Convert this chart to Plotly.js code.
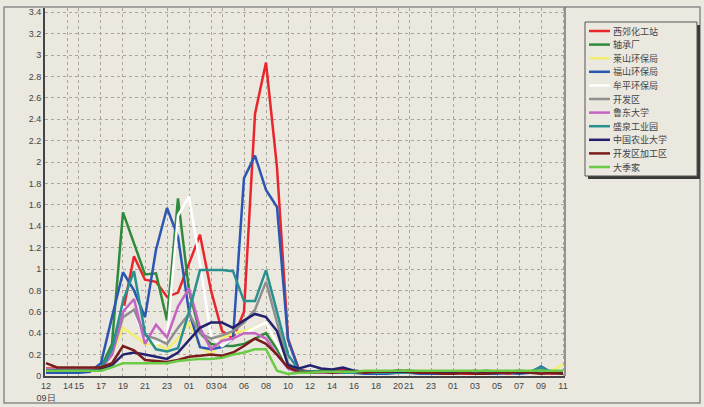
<!DOCTYPE html>
<html>
<head>
<meta charset="utf-8">
<script src="https://cdn.plot.ly/plotly-3.0.1.min.js"></script>
<style>
html,body{margin:0;padding:0;background:#ebe8e0;}
#chart{width:704px;height:407px;}
</style>
</head>
<body>
<div id="chart"></div>
<script>
// hour index from 09日 12时
var hourIndex = [0,1,2,3,4,5,6,7,8,9,10,11,12,13,14,15,16,17,18,19,20,21,22,23,
                 24,25,26,27,28,29,30,31,32,33,34,35,36,37,38,39,40,41,42,43,44,45,46,47];
var tickHours  = [0,2,3,5,7,9,11,13,15,16,18,20,22,24,26,28,30,32,33,35,37,39,41,43,45,47];
var tickLabels = ["12<br>09日","14","15","17","19","21","23","01","03","04","06","08","10",
                  "12","14","16","18","20","21","23","01","03","05","07","09","11"];

var seriesNames = ["西郊化工站","轴承厂","莱山环保局","福山环保局","牟平环保局","开发区",
                   "鲁东大学","盛泉工业园","中国农业大学","开发区加工区","大季家"];
var seriesColors = ["#e8262c","#2f8a3c","#f3ee6c","#2b56b2","#ffffff","#8f8f8f",
                    "#c463c4","#2a8f8f","#22226e","#7a1c1c","#6acb46"];

var xijiao   = [0.07,0.07,0.07,0.07,0.07,0.08,0.2,0.6,1.12,0.9,0.88,0.74,0.78,1.05,1.32,0.8,0.42,0.35,0.6,2.45,2.93,1.95,0.35,0.06,
                0.04,0.04,0.05,0.06,0.04,0.03,0.03,0.03,0.04,0.05,0.03,0.02,0.02,0.03,0.02,0.02,0.03,0.03,0.02,0.03,0.04,0.03,0.02,0.03];
var zhoucheng= [0.06,0.06,0.06,0.06,0.06,0.08,0.3,1.53,1.25,0.95,0.96,0.52,1.66,0.8,0.4,0.3,0.28,0.28,0.3,0.35,0.4,0.25,0.08,0.05,
                0.04,0.05,0.04,0.04,0.05,0.04,0.04,0.04,0.05,0.05,0.04,0.04,0.04,0.03,0.04,0.04,0.05,0.04,0.04,0.05,0.04,0.04,0.05,0.04];
var laishan  = [0.06,0.06,0.06,0.06,0.06,0.06,0.2,0.45,0.38,0.3,0.3,0.25,0.35,0.5,0.28,0.2,0.35,0.4,0.42,0.45,0.5,0.3,0.1,0.04,
                0.03,0.03,0.03,0.03,0.03,0.03,0.03,0.03,0.03,0.04,0.03,0.03,0.03,0.04,0.03,0.03,0.03,0.03,0.03,0.03,0.04,0.04,0.05,0.11];
var fushan   = [0.03,0.03,0.03,0.03,0.04,0.12,0.55,0.97,0.8,0.55,1.18,1.57,1.3,0.6,0.27,0.25,0.27,0.35,1.85,2.06,1.74,1.58,0.34,0.05,
                0.04,0.03,0.03,0.03,0.03,0.02,0.02,0.02,0.03,0.03,0.02,0.02,0.02,0.02,0.03,0.04,0.02,0.02,0.03,0.02,0.03,0.09,0.03,0.02];
var muping   = [0.06,0.06,0.06,0.06,0.06,0.06,0.2,0.65,0.6,0.35,0.3,0.35,1.5,1.68,1.05,0.38,0.28,0.35,0.4,0.45,0.5,0.3,0.1,0.04,
                0.03,0.03,0.03,0.03,0.03,0.03,0.03,0.03,0.03,0.03,0.03,0.03,0.03,0.03,0.03,0.03,0.03,0.03,0.03,0.03,0.03,0.03,0.03,0.03];
var kaifaqu  = [0.06,0.06,0.06,0.06,0.06,0.07,0.2,0.55,0.62,0.38,0.35,0.3,0.45,0.58,0.4,0.35,0.38,0.42,0.5,0.62,0.88,0.5,0.12,0.04,
                0.03,0.03,0.03,0.03,0.03,0.03,0.03,0.03,0.03,0.03,0.03,0.03,0.03,0.03,0.03,0.03,0.03,0.03,0.03,0.04,0.03,0.03,0.03,0.03];
var ludong   = [0.06,0.06,0.06,0.06,0.06,0.07,0.2,0.6,0.72,0.3,0.48,0.36,0.65,0.82,0.45,0.25,0.33,0.35,0.4,0.4,0.35,0.2,0.07,0.03,
                0.03,0.03,0.03,0.03,0.03,0.03,0.03,0.03,0.03,0.03,0.03,0.03,0.03,0.03,0.03,0.03,0.03,0.03,0.03,0.03,0.03,0.03,0.03,0.03];
var shengquan= [0.05,0.05,0.05,0.05,0.05,0.06,0.25,0.7,0.98,0.4,0.25,0.23,0.26,0.6,0.99,0.99,0.99,0.98,0.7,0.7,0.99,0.6,0.2,0.05,
                0.04,0.04,0.04,0.03,0.03,0.03,0.03,0.03,0.03,0.03,0.03,0.03,0.03,0.03,0.03,0.03,0.03,0.03,0.03,0.03,0.04,0.08,0.03,0.03];
var nongda   = [0.05,0.05,0.05,0.05,0.05,0.06,0.1,0.2,0.22,0.2,0.18,0.16,0.22,0.33,0.45,0.5,0.5,0.45,0.52,0.58,0.55,0.42,0.1,0.07,
                0.1,0.07,0.06,0.08,0.05,0.04,0.04,0.04,0.04,0.04,0.03,0.03,0.03,0.03,0.03,0.05,0.03,0.03,0.04,0.03,0.03,0.05,0.03,0.03];
var jiagongqu= [0.12,0.08,0.08,0.08,0.08,0.08,0.12,0.28,0.24,0.15,0.14,0.13,0.15,0.18,0.19,0.2,0.19,0.22,0.28,0.35,0.3,0.2,0.08,0.04,
                0.03,0.04,0.03,0.04,0.04,0.03,0.04,0.04,0.05,0.04,0.03,0.03,0.02,0.02,0.03,0.02,0.02,0.03,0.03,0.04,0.03,0.02,0.03,0.02];
var dajijia  = [0.05,0.05,0.05,0.05,0.05,0.05,0.08,0.12,0.12,0.12,0.12,0.12,0.14,0.15,0.16,0.16,0.17,0.2,0.22,0.25,0.25,0.05,0.02,0.03,
                0.03,0.04,0.04,0.04,0.04,0.05,0.05,0.05,0.05,0.05,0.05,0.05,0.05,0.05,0.05,0.05,0.05,0.05,0.05,0.05,0.05,0.05,0.05,0.05];

var seriesValues = [xijiao,zhoucheng,laishan,fushan,muping,kaifaqu,ludong,shengquan,nongda,jiagongqu,dajijia];

var traces = seriesValues.map(function(v,k){
  return {x: hourIndex, y: v, type: 'scatter', mode: 'lines', name: seriesNames[k],
          line: {color: seriesColors[k], width: 2.5}, showlegend: false, hoverinfo: 'skip'};
});

// pixel helpers for the custom legend (plot area 45..565 x 8..376)
var PL = 45, PR = 565, PT = 8, PB = 376;
function px(xp){ return (xp - PL) / (PR - PL); }
function py(yp){ return (PB - yp) / (PB - PT); }

var legTop = 22, legGap = 13.6, legFont = 9;
var legBottom = legTop + 9 + (seriesNames.length - 1) * legGap + 9;

var shapes = [];
var annotations = [];
// outer frame
shapes.push({type:'rect', xref:'paper', yref:'paper', x0:px(4), x1:px(700), y0:py(403), y1:py(7),
             line:{color:'#8a8a8a', width:1.5}, fillcolor:'rgba(0,0,0,0)', layer:'below'});
// legend shadow + box
shapes.push({type:'rect', xref:'paper', yref:'paper', x0:px(588), x1:px(700), y0:py(legBottom + 3), y1:py(legTop + 3),
             line:{width:0}, fillcolor:'#3a3a3a'});
shapes.push({type:'rect', xref:'paper', yref:'paper', x0:px(585), x1:px(697), y0:py(legBottom), y1:py(legTop),
             line:{color:'#555', width:1}, fillcolor:'#ebe8e0'});
seriesNames.forEach(function(n,k){
  var yc = legTop + 9 + k * legGap;
  shapes.push({type:'line', xref:'paper', yref:'paper', x0:px(589), x1:px(610), y0:py(yc), y1:py(yc),
               line:{color:seriesColors[k], width:2.5}});
  annotations.push({xref:'paper', yref:'paper', x:px(612), y:py(yc), xanchor:'left', yanchor:'middle',
                    text:n, showarrow:false, font:{family:'Noto Sans CJK SC', size:legFont, color:'#444'},
                    borderpad:0});
});

var layout = {
  width: 704, height: 407,
  margin: {l: PL, r: 704 - PR, t: PT, b: 407 - PB},
  paper_bgcolor: '#ebe8e0', plot_bgcolor: '#ebe8e0',
  font: {family: 'Liberation Sans, Arial, sans-serif', size: 10, color: '#444'},
  xaxis: {range: [-0.09, 47.18], tickmode: 'array', tickvals: tickHours, ticktext: tickLabels,
          tickangle: 0, automargin: false,
          showgrid: true, gridcolor: '#a9a59b', griddash: 'dot', gridwidth: 1,
          showline: true, linecolor: '#444', linewidth: 2, mirror: false,
          ticks: '', zeroline: false, tickfont: {family: 'Liberation Sans, Arial, sans-serif', size: 9, color: '#444'}},
  yaxis: {range: [0, 3.44], dtick: 0.2, tick0: 0, automargin: false,
          showgrid: true, gridcolor: '#a9a59b', griddash: 'dot', gridwidth: 1,
          showline: true, linecolor: '#444', linewidth: 2, ticks: '', zeroline: false,
          tickfont: {size: 9, color: '#444'}},
  shapes: shapes,
  annotations: annotations
};
// right border of plot area
layout.shapes.push({type:'line', xref:'paper', yref:'paper', x0:1, x1:1, y0:0, y1:py(7),
                    line:{color:'#777', width:1.5}});

Plotly.newPlot('chart', traces, layout, {displayModeBar: false, staticPlot: true});
</script>
</body>
</html>
